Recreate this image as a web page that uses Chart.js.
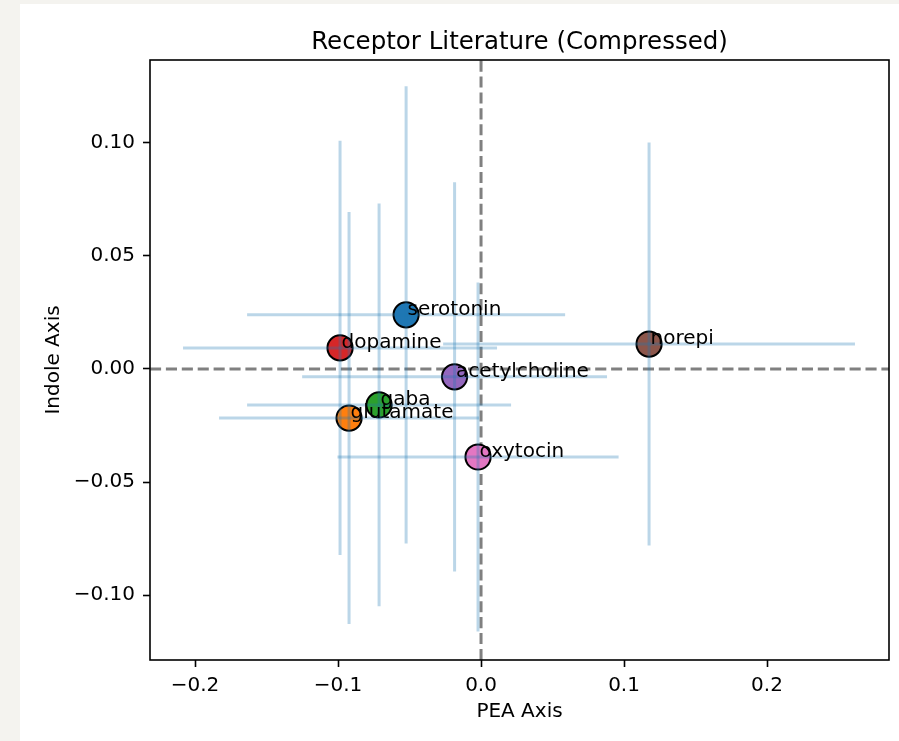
<!DOCTYPE html>
<html>
<head>
<meta charset="utf-8">
<script src="https://cdn.jsdelivr.net/npm/chart.js@4.4.1/dist/chart.umd.min.js"></script>
<style>
  html, body { margin: 0; padding: 0; background: #f4f3ef; width: 899px; height: 741px; overflow: hidden; }
  #card { position: absolute; left: 20px; top: 4px; width: 879px; height: 737px; background: #ffffff; }
  canvas { display: block; }
</style>
</head>
<body>
<div id="card"><canvas id="chart" width="879" height="737"></canvas></div>
<script>
// Receptor positions in the compressed PEA / Indole space
const receptors    = ['serotonin', 'dopamine', 'norepi', 'acetylcholine', 'gaba', 'glutamate', 'oxytocin'];
const peaValues    = [-0.0524, -0.0986, 0.1175, -0.0185, -0.0713, -0.0923, -0.0021];
const indoleValues = [ 0.0239,  0.0093, 0.0110, -0.0035, -0.0159, -0.0217, -0.0389];
// Symmetric uncertainty on each axis
const peaErrors    = [0.1112, 0.1098, 0.1440, 0.1066, 0.0923, 0.0909, 0.0983];
const indoleErrors = [0.1010, 0.0915, 0.0890, 0.0860, 0.0890, 0.0910, 0.0771];
const pointColors  = ['#1f77b4', '#d62728', '#8c564b', '#9467bd', '#2ca02c', '#ff7f0e', '#e377c2'];
// Axis ticks
const peaTicks     = [-0.2, -0.1, 0.0, 0.1, 0.2];
const indoleTicks  = [-0.10, -0.05, 0.00, 0.05, 0.10];

const FONT = "'DejaVu Sans', 'Liberation Sans', sans-serif";
const minusify = s => s.replace('-', '\u2212');

// Dashed reference lines through the origin
const zeroLines = {
  id: 'zeroLines',
  beforeDatasetsDraw(chart) {
    const { ctx, chartArea: a, scales: { x, y } } = chart;
    ctx.save();
    ctx.beginPath(); ctx.rect(a.left, a.top, a.right - a.left, a.bottom - a.top); ctx.clip();
    ctx.strokeStyle = '#808080';
    ctx.lineWidth = 3;
    ctx.setLineDash([11.1, 4.8]);
    const x0 = x.getPixelForValue(0), y0 = y.getPixelForValue(0);
    ctx.beginPath(); ctx.moveTo(x0, a.bottom); ctx.lineTo(x0, a.top); ctx.stroke();
    ctx.beginPath(); ctx.moveTo(a.left, y0); ctx.lineTo(a.right, y0); ctx.stroke();
    ctx.restore();
  }
};

// Error bars, labels, frame and title
const overlay = {
  id: 'overlay',
  afterDatasetsDraw(chart) {
    const { ctx, scales: { x, y } } = chart;
    ctx.save();
    ctx.strokeStyle = 'rgba(31,119,180,0.3)';
    ctx.lineWidth = 3;
    ctx.lineCap = 'butt';
    receptors.forEach((_, i) => {
      const px = x.getPixelForValue(peaValues[i]);
      const py = y.getPixelForValue(indoleValues[i]);
      ctx.beginPath();
      ctx.moveTo(px, y.getPixelForValue(indoleValues[i] - indoleErrors[i]));
      ctx.lineTo(px, y.getPixelForValue(indoleValues[i] + indoleErrors[i]));
      ctx.stroke();
      ctx.beginPath();
      ctx.moveTo(x.getPixelForValue(peaValues[i] - peaErrors[i]), py);
      ctx.lineTo(x.getPixelForValue(peaValues[i] + peaErrors[i]), py);
      ctx.stroke();
    });
    ctx.fillStyle = '#000';
    ctx.font = '20px ' + FONT;
    ctx.textAlign = 'left';
    ctx.textBaseline = 'alphabetic';
    receptors.forEach((name, i) => {
      ctx.fillText(name, x.getPixelForValue(peaValues[i]) + 1.5, y.getPixelForValue(indoleValues[i]));
    });
    ctx.restore();
  },
  afterDraw(chart) {
    const { ctx, chartArea: a } = chart;
    ctx.save();
    ctx.strokeStyle = '#000';
    ctx.lineWidth = 1.6;
    ctx.strokeRect(a.left, a.top, a.right - a.left, a.bottom - a.top);
    ctx.fillStyle = '#000';
    ctx.font = '24.5px ' + FONT;
    ctx.textAlign = 'center';
    ctx.textBaseline = 'alphabetic';
    ctx.fillText('Receptor Literature (Compressed)', (a.left + a.right) / 2, 45);
    ctx.restore();
  }
};

new Chart(document.getElementById('chart'), {
  type: 'scatter',
  data: {
    datasets: [{
      data: receptors.map((_, i) => ({ x: peaValues[i], y: indoleValues[i] })),
      backgroundColor: pointColors,
      borderColor: '#000',
      borderWidth: 2,
      pointRadius: 12.6,
      pointHoverRadius: 12.6
    }]
  },
  options: {
    responsive: false,
    devicePixelRatio: 1,
    animation: false,
    events: [],
    layout: { autoPadding: false, padding: { top: 56, right: 10, bottom: 0, left: 0 } },
    plugins: { legend: { display: false }, tooltip: { enabled: false }, title: { display: false } },
    scales: {
      x: {
        type: 'linear',
        min: -0.2315, max: 0.2853,
        afterBuildTicks: s => { s.ticks = peaTicks.map(v => ({ value: v })); },
        afterFit: s => { s.height = 81; s.paddingLeft = 0; s.paddingRight = 0; },
        grid: { drawOnChartArea: false, drawTicks: true, tickLength: 7, tickColor: '#000', tickWidth: 1.6 },
        border: { display: false },
        ticks: {
          color: '#000', padding: 7, maxRotation: 0, autoSkip: false,
          font: { family: FONT, size: 20 },
          callback: v => minusify(v.toFixed(1))
        },
        title: { display: true, text: 'PEA Axis', color: '#000', font: { family: FONT, size: 20 }, padding: { top: 0, bottom: 17 } }
      },
      y: {
        type: 'linear',
        min: -0.1286, max: 0.1365,
        afterBuildTicks: s => { s.ticks = indoleTicks.map(v => ({ value: v })); },
        afterFit: s => { s.width = 130; s.paddingTop = 0; s.paddingBottom = 0; },
        grid: { drawOnChartArea: false, drawTicks: true, tickLength: 7, tickColor: '#000', tickWidth: 1.6 },
        border: { display: false },
        ticks: {
          color: '#000', padding: 8, autoSkip: false,
          font: { family: FONT, size: 20 },
          callback: v => minusify(v.toFixed(2))
        },
        title: { display: true, text: 'Indole Axis', color: '#000', font: { family: FONT, size: 20 }, padding: { top: 22, bottom: 0 } }
      }
    }
  },
  plugins: [zeroLines, overlay]
});
</script>
</body>
</html>
